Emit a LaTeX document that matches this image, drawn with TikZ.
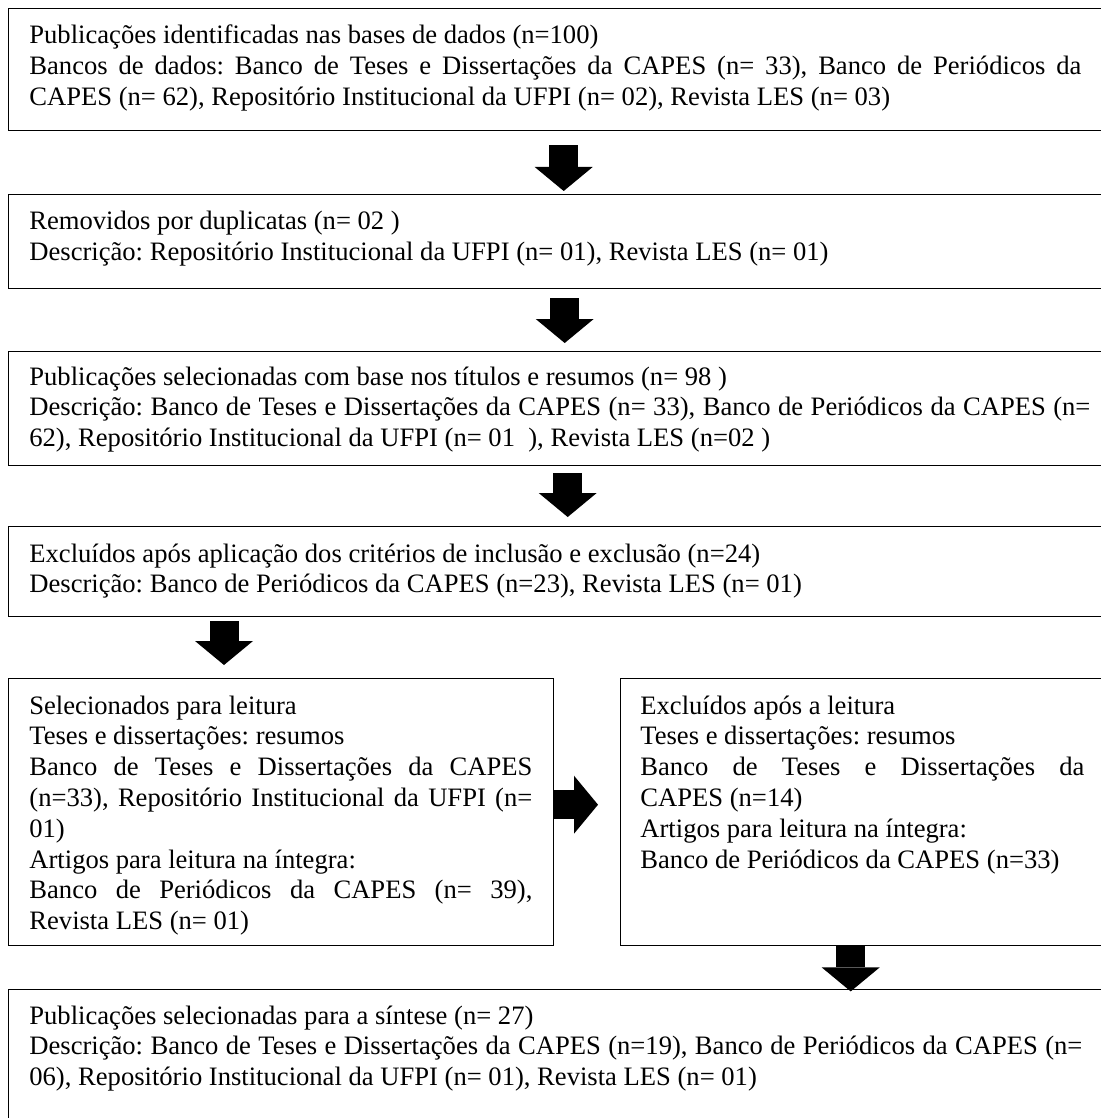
\documentclass[tikz,border=0pt]{standalone}
\usepackage{fontspec}
\setmainfont{Liberation Serif}
\usetikzlibrary{arrows.meta,calc}
\newcommand{\jlin}[2]{\hbox to #1{#2}}
\newcommand{\rlin}[1]{\hbox{#1}}
\frenchspacing
\begin{document}
\begin{tikzpicture}[x=0.5pt, y=-0.5pt,
  frame/.style={draw=black, line width=0.7pt, anchor=north west, inner sep=0pt},
  txt/.style={anchor=base west, inner sep=0pt, font=\fontsize{13.3pt}{15.4pt}\selectfont\frenchspacing},
  blockarrow/.style={draw=black, line width=14.5pt, -{Triangle[width=29pt, length=12pt, line width=0pt]}},
]
\useasboundingbox[fill=white] (0,0) rectangle (1100,1118);

% frames
\node[frame, minimum width=549pt, minimum height=61pt] (b1) at (8,8) {};
\node[frame, minimum width=549pt, minimum height=47pt] (b2) at (8,194) {};
\node[frame, minimum width=549pt, minimum height=57pt] (b3) at (8,351) {};
\node[frame, minimum width=549pt, minimum height=45pt] (b4) at (8,526) {};
\node[frame, minimum width=272.5pt, minimum height=133.5pt] (b5) at (8,678) {};
\node[frame, minimum width=243pt, minimum height=133.5pt] (b6) at (620,678) {};
\node[frame, minimum width=549pt, minimum height=70pt] (b7) at (8,989) {};

% texts
\node[txt] (t1) at (29,44) {\parbox[t]{530pt}{%
\rlin{Publicações identificadas nas bases de dados (n=100)}
\jlin{526pt}{Bancos de dados: Banco de Teses e Dissertações da CAPES (n= 33), Banco de Periódicos da}
\rlin{CAPES (n= 62), Repositório Institucional da UFPI (n= 02), Revista LES (n= 03)}}};

\node[txt] (t2) at (29,230) {\parbox[t]{530pt}{%
\rlin{Removidos por duplicatas (n= 02 )}
\rlin{Descrição: Repositório Institucional da UFPI (n= 01), Revista LES (n= 01)}}};

\node[txt] (t3) at (29,385) {\parbox[t]{530pt}{%
\rlin{Publicações selecionadas com base nos títulos e resumos (n= 98 )}
\jlin{530.5pt}{Descrição: Banco de Teses e Dissertações da CAPES (n= 33), Banco de Periódicos da CAPES (n=}
\rlin{62), Repositório Institucional da UFPI (n= 01\ \ ), Revista LES (n=02 )}}};

\node[txt] (t4) at (29,562) {\parbox[t]{530pt}{%
\rlin{Excluídos após aplicação dos critérios de inclusão e exclusão (n=24)}
\rlin{Descrição: Banco de Periódicos da CAPES (n=23), Revista LES (n= 01)}}};

\node[txt] (t5) at (29,714) {\parbox[t]{252pt}{%
\rlin{Selecionados para leitura}
\rlin{Teses e dissertações: resumos}
\jlin{251.5pt}{Banco de Teses e Dissertações da CAPES}
\jlin{251.5pt}{(n=33), Repositório Institucional da UFPI (n=}
\rlin{01)}
\rlin{Artigos para leitura na íntegra:}
\jlin{251.5pt}{Banco de Periódicos da CAPES (n= 39),}
\rlin{Revista LES (n= 01)}}};

\node[txt] (t6) at (640,714) {\parbox[t]{222pt}{%
\rlin{Excluídos após a leitura}
\rlin{Teses e dissertações: resumos}
\jlin{222pt}{Banco de Teses e Dissertações da}
\rlin{CAPES (n=14)}
\rlin{Artigos para leitura na íntegra:}
\rlin{Banco de Periódicos da CAPES (n=33)}}};

\node[txt] (t7) at (29,1024) {\parbox[t]{530pt}{%
\rlin{Publicações selecionadas para a síntese (n= 27)}
\jlin{526.5pt}{Descrição: Banco de Teses e Dissertações da CAPES (n=19), Banco de Periódicos da CAPES (n=}
\rlin{06), Repositório Institucional da UFPI (n= 01), Revista LES (n= 01)}}};

% block arrows
\draw[blockarrow] ($(b1.south)+(6,14)$) -- ($(b2.north)+(6,-3)$);
\draw[blockarrow] ($(b2.south)+(7,9)$) -- ($(b3.north)+(7,-8)$);
\draw[blockarrow] ($(b3.south)+(10,7)$) -- ($(b4.north)+(10,-9)$);
\draw[blockarrow] ($(b4.south west)+(216,4)$) -- ($(b5.north west)+(216,-13)$);
\draw[blockarrow] ($(b5.east)+(0,-7.5)$) -- ($(b6.west)+(-22,-7.5)$);
\draw[blockarrow] ($(b6.south)+(-13,0)$) -- ($(b6.south)+(-13,45)$);
\end{tikzpicture}
\end{document}
